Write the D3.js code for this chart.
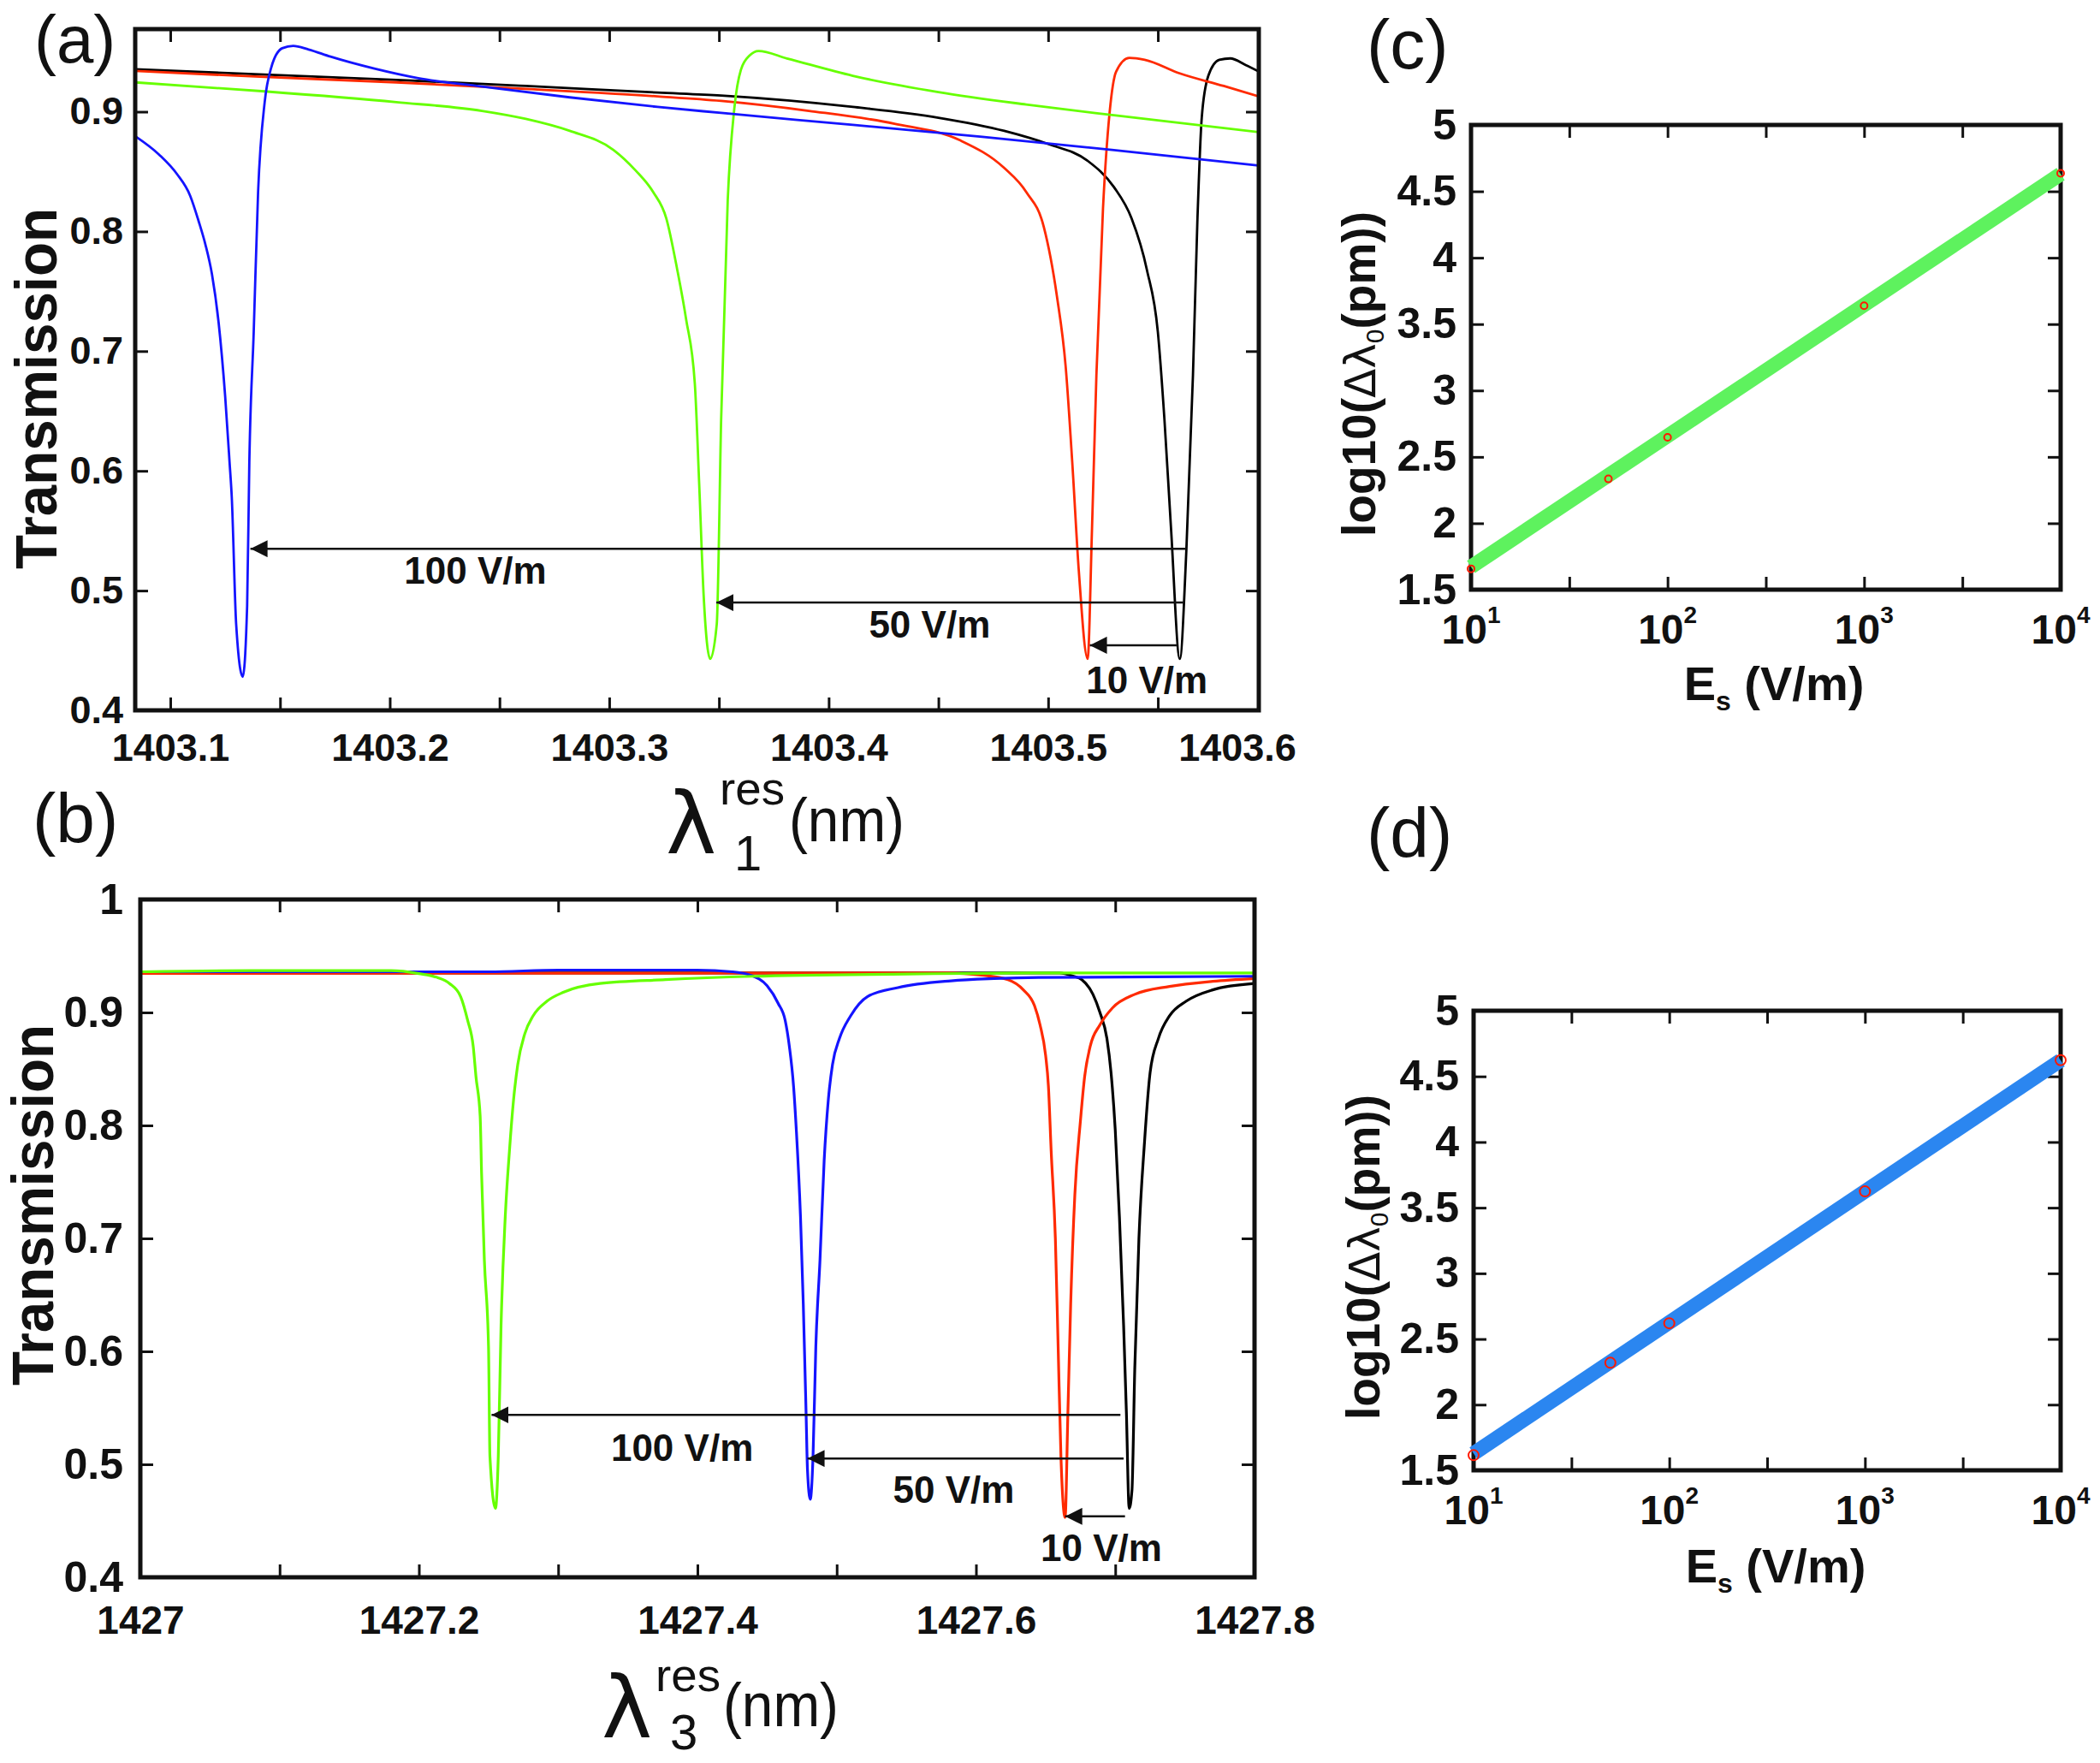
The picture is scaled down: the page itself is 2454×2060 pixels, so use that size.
<!DOCTYPE html>
<html>
<head>
<meta charset="utf-8">
<script src="https://cdn.jsdelivr.net/npm/d3@7"></script>
<style>
  body { margin: 0; background: #fff; }
  text { font-family: "Liberation Sans", Arial, sans-serif; fill: #111; }
</style>
</head>
<body>
<script>
// ---- data ----
// (a) transmission around lambda_1 (nm, T)
let aBlack = [[1403.084,0.9354],[1403.143,0.931],[1403.203,0.9266],[1403.262,0.9215],[1403.322,0.916],[1403.351,0.9135],[1403.411,0.904],[1403.450,0.895],[1403.480,0.884],[1403.500,0.873],[1403.518,0.859],[1403.530,0.837],[1403.538,0.811],[1403.545,0.768],[1403.550,0.716],[1403.553,0.643],[1403.556,0.552],[1403.560,0.443],[1403.563,0.534],[1403.566,0.680],[1403.568,0.808],[1403.570,0.895],[1403.573,0.930],[1403.578,0.9434],[1403.583,0.9445],[1403.590,0.939],[1403.596,0.9336]];
let aRed = [[1403.084,0.934],[1403.143,0.929],[1403.203,0.9245],[1403.262,0.919],[1403.322,0.9128],[1403.351,0.909],[1403.391,0.9007],[1403.430,0.890],[1403.460,0.876],[1403.480,0.853],[1403.490,0.833],[1403.498,0.804],[1403.504,0.746],[1403.508,0.687],[1403.511,0.607],[1403.514,0.516],[1403.518,0.443],[1403.520,0.552],[1403.522,0.680],[1403.525,0.819],[1403.528,0.899],[1403.531,0.9336],[1403.537,0.945],[1403.544,0.9434],[1403.560,0.932],[1403.580,0.9215],[1403.596,0.9128]];
let aGreen = [[1403.084,0.9245],[1403.143,0.917],[1403.203,0.908],[1403.242,0.9007],[1403.262,0.894],[1403.282,0.884],[1403.302,0.868],[1403.312,0.851],[1403.320,0.833],[1403.326,0.811],[1403.331,0.768],[1403.335,0.727],[1403.339,0.673],[1403.341,0.589],[1403.343,0.497],[1403.346,0.443],[1403.349,0.472],[1403.351,0.643],[1403.354,0.826],[1403.357,0.9026],[1403.360,0.935],[1403.364,0.947],[1403.368,0.9507],[1403.381,0.9445],[1403.411,0.930],[1403.450,0.9164],[1403.490,0.906],[1403.530,0.897],[1403.596,0.883]];
let aBlue = [[1403.084,0.8796],[1403.095,0.864],[1403.103,0.848],[1403.109,0.830],[1403.113,0.808],[1403.116,0.789],[1403.119,0.764],[1403.122,0.724],[1403.125,0.662],[1403.127,0.607],[1403.128,0.578],[1403.130,0.472],[1403.133,0.428],[1403.135,0.487],[1403.136,0.607],[1403.138,0.716],[1403.140,0.833],[1403.143,0.908],[1403.146,0.937],[1403.151,0.953],[1403.156,0.955],[1403.163,0.952],[1403.173,0.946],[1403.193,0.936],[1403.213,0.928],[1403.242,0.921],[1403.282,0.912],[1403.322,0.904],[1403.351,0.899],[1403.411,0.889],[1403.470,0.879],[1403.530,0.868],[1403.596,0.855]];

// (b) transmission around lambda_3
let bBlack = [[1427.000,0.935],[1427.660,0.935],[1427.670,0.932],[1427.676,0.929],[1427.684,0.916],[1427.689,0.900],[1427.694,0.877],[1427.697,0.8465],[1427.700,0.796],[1427.703,0.719],[1427.706,0.623],[1427.708,0.546],[1427.710,0.461],[1427.712,0.477],[1427.714,0.584],[1427.717,0.700],[1427.721,0.785],[1427.725,0.8465],[1427.731,0.877],[1427.739,0.897],[1427.751,0.910],[1427.770,0.920],[1427.800,0.9256]];
let bRed = [[1427.000,0.9345],[1427.580,0.935],[1427.604,0.933],[1427.623,0.929],[1427.634,0.920],[1427.642,0.906],[1427.646,0.889],[1427.650,0.862],[1427.652,0.835],[1427.654,0.777],[1427.657,0.700],[1427.659,0.604],[1427.661,0.507],[1427.664,0.453],[1427.666,0.546],[1427.668,0.642],[1427.671,0.739],[1427.675,0.804],[1427.678,0.843],[1427.682,0.870],[1427.689,0.889],[1427.698,0.904],[1427.714,0.916],[1427.739,0.923],[1427.770,0.9275],[1427.800,0.930]];
let bBlue = [[1427.000,0.936],[1427.250,0.936],[1427.300,0.9375],[1427.400,0.9375],[1427.425,0.936],[1427.438,0.933],[1427.450,0.9236],[1427.458,0.908],[1427.463,0.893],[1427.466,0.870],[1427.469,0.835],[1427.471,0.796],[1427.474,0.719],[1427.476,0.642],[1427.478,0.546],[1427.479,0.4956],[1427.481,0.469],[1427.483,0.507],[1427.485,0.604],[1427.488,0.681],[1427.491,0.769],[1427.494,0.823],[1427.497,0.854],[1427.502,0.877],[1427.510,0.897],[1427.522,0.914],[1427.544,0.922],[1427.582,0.928],[1427.613,0.930],[1427.645,0.931],[1427.800,0.932]];
let bGreen = [[1427.000,0.936],[1427.080,0.937],[1427.180,0.937],[1427.200,0.9344],[1427.213,0.931],[1427.222,0.9256],[1427.230,0.914],[1427.235,0.893],[1427.239,0.870],[1427.241,0.843],[1427.244,0.808],[1427.245,0.758],[1427.247,0.681],[1427.250,0.604],[1427.251,0.507],[1427.255,0.461],[1427.257,0.507],[1427.259,0.623],[1427.262,0.719],[1427.265,0.777],[1427.268,0.823],[1427.271,0.854],[1427.276,0.881],[1427.282,0.897],[1427.292,0.910],[1427.304,0.918],[1427.330,0.9256],[1427.377,0.929],[1427.440,0.932],[1427.551,0.934],[1427.645,0.935],[1427.800,0.935]];

// shift arrows: y level, tail (unshifted dip), head (shifted dip), label position
let arrowsA = [
  { label: "100 V/m", y: 0.535, from: 1403.563, to: 1403.1365, lx: 1403.239, ly: 0.517 },
  { label: "50 V/m",  y: 0.490, from: 1403.5616, to: 1403.3488, lx: 1403.446, ly: 0.472 },
  { label: "10 V/m",  y: 0.4544, from: 1403.559, to: 1403.519, lx: 1403.545, ly: 0.4255 }
];
let arrowsB = [
  { label: "100 V/m", y: 0.5438, from: 1427.7037, to: 1427.2522, lx: 1427.389, ly: 0.515 },
  { label: "50 V/m",  y: 0.5052, from: 1427.706, to: 1427.479, lx: 1427.584, ly: 0.478 },
  { label: "10 V/m",  y: 0.4539, from: 1427.707, to: 1427.664, lx: 1427.690, ly: 0.4262 }
];

// (c), (d) log10 of shift vs applied field
let fields = [10, 50, 100, 1000, 10000];
let shiftC = [1.657, 2.334, 2.647, 3.638, 4.636];
let shiftD = [1.615, 2.319, 2.620, 3.624, 4.624];
let fitFields = [10, 10000];
let fitC = [1.672, 4.630];
let fitD = [1.628, 4.622];

// tick values
let xTicksA = d3.range(0, 10).map(i => 1403.1 + i * 0.05);
let xLabelsA = [1403.1, 1403.2, 1403.3, 1403.4, 1403.5, 1403.6];
let yTicksA = [0.4, 0.5, 0.6, 0.7, 0.8, 0.9];
let xTicksB = d3.range(0, 9).map(i => 1427 + i * 0.1);
let yTicksB = [0.4, 0.5, 0.6, 0.7, 0.8, 0.9, 1];
let logTicks = [1, 1.5, 2, 2.5, 3, 3.5, 4].map(e => Math.pow(10, e));
let decades = [1, 2, 3, 4];
let yTicksCD = [1.5, 2, 2.5, 3, 3.5, 4, 4.5, 5];

// ---- drawing ----
let svg = d3.select("body").append("svg")
  .attr("width", 2454)
  .attr("height", 2060);

let defs = svg.append("defs");
defs.append("marker")
  .attr("id", "head")
  .attr("viewBox", "0 0 20 20")
  .attr("markerUnits", "userSpaceOnUse")
  .attr("markerWidth", 20).attr("markerHeight", 20)
  .attr("refX", 20).attr("refY", 10)
  .attr("orient", "auto")
  .append("path").attr("d", "M0,0 L20,10 L0,20 Z").attr("fill", "#111");

let xA = d3.scaleLinear().domain([1403.084, 1403.596]).range([158, 1471]);
let yA = d3.scaleLinear().domain([0.4, 0.969]).range([830, 34]);
let xB = d3.scaleLinear().domain([1427, 1427.8]).range([164, 1466]);
let yB = d3.scaleLinear().domain([0.4, 1]).range([1843, 1051]);
let xC = d3.scaleLog().domain([10, 1e4]).range([1719, 2408]);
let yC = d3.scaleLinear().domain([1.5, 5]).range([689, 146]);
let xD = d3.scaleLog().domain([10, 1e4]).range([1722, 2408]);
let yD = d3.scaleLinear().domain([1.5, 5]).range([1718, 1181]);

function boxAxes(x, y, o) {
  let [xl, xr] = x.range(), [yb, yt] = y.range();
  let g = svg.append("g");
  let bottom = g.append("g").attr("transform", `translate(0,${yb})`)
    .call(d3.axisBottom(x).tickValues(o.xTicks).tickSize(-15).tickPadding(o.xPad).tickFormat(o.xFmt));
  let top = g.append("g").attr("transform", `translate(0,${yt})`)
    .call(d3.axisTop(x).tickValues(o.xTicks).tickSize(-15).tickFormat(""));
  let left = g.append("g").attr("transform", `translate(${xl},0)`)
    .call(d3.axisLeft(y).tickValues(o.yTicks).tickSize(-15).tickPadding(o.yPad).tickFormat(o.yFmt));
  let right = g.append("g").attr("transform", `translate(${xr},0)`)
    .call(d3.axisRight(y).tickValues(o.yTicks).tickSize(-15).tickFormat(""));
  [bottom, top, left, right].forEach(a => {
    a.select(".domain").remove();
    a.selectAll("line").attr("stroke", "#111").attr("stroke-width", 3);
    a.selectAll("text")
      .style("font-family", '"Liberation Sans", Arial, sans-serif')
      .attr("font-weight", "bold").attr("fill", "#111");
  });
  bottom.selectAll("text").attr("font-size", o.xFs);
  left.selectAll("text").attr("font-size", o.yFs);
  g.append("rect")
    .attr("x", xl).attr("y", yt)
    .attr("width", xr - xl).attr("height", yb - yt)
    .attr("fill", "none").attr("stroke", "#111").attr("stroke-width", 5);
  return g;
}

function clipFor(id, x, y) {
  let [xl, xr] = x.range(), [yb, yt] = y.range();
  defs.append("clipPath").attr("id", id)
    .append("rect").attr("x", xl).attr("y", yt).attr("width", xr - xl).attr("height", yb - yt);
  return svg.append("g").attr("clip-path", `url(#${id})`);
}

function curves(g, x, y, series, width) {
  let line = d3.line().x(d => x(d[0])).y(d => y(d[1])).curve(d3.curveMonotoneX);
  series.forEach(s => {
    g.append("path").datum(s.data)
      .attr("d", line)
      .attr("fill", "none")
      .attr("stroke", s.color)
      .attr("stroke-width", width)
      .attr("stroke-linejoin", "round");
  });
}

function shiftArrows(x, y, arrows) {
  let g = svg.append("g");
  arrows.forEach(a => {
    g.append("line")
      .attr("x1", x(a.from)).attr("y1", y(a.y))
      .attr("x2", x(a.to)).attr("y2", y(a.y))
      .attr("stroke", "#111").attr("stroke-width", 2.5)
      .attr("marker-end", "url(#head)");
    g.append("text")
      .attr("x", x(a.lx)).attr("y", y(a.ly))
      .attr("dy", "0.36em")
      .attr("text-anchor", "middle")
      .attr("font-size", 44).attr("font-weight", "bold")
      .text(a.label);
  });
}

let tenths = d => Math.abs(d * 10 - Math.round(d * 10)) < 1e-6;
let fifths = d => Math.abs(d * 5 - Math.round(d * 5)) < 1e-6;

// panel (a)
let gA = clipFor("clipA", xA, yA);
curves(gA, xA, yA, [
  { data: aBlack, color: "#000" },
  { data: aRed, color: "#ff2a00" },
  { data: aGreen, color: "#66ff00" },
  { data: aBlue, color: "#1414ff" }
], 2.8);
boxAxes(xA, yA, {
  xTicks: xTicksA, xPad: 27, xFs: 45,
  xFmt: d => tenths(d) ? d.toFixed(1) : "",
  yTicks: yTicksA, yPad: 14, yFs: 45,
  yFmt: d => d.toFixed(1)
});
// last label sits past the axis end
svg.append("text")
  .attr("x", Math.min(xA(xLabelsA[5]), xA.range()[1] - 25))
  .attr("y", 889)
  .attr("text-anchor", "middle")
  .attr("font-size", 45).attr("font-weight", "bold")
  .text(xLabelsA[5].toFixed(1));
shiftArrows(xA, yA, arrowsA);

// panel (b)
let gB = clipFor("clipB", xB, yB);
curves(gB, xB, yB, [
  { data: bBlack, color: "#000" },
  { data: bRed, color: "#ff2a00" },
  { data: bBlue, color: "#1414ff" },
  { data: bGreen, color: "#66ff00" }
], 3.2);
boxAxes(xB, yB, {
  xTicks: xTicksB, xPad: 33, xFs: 46,
  xFmt: d => fifths(d) ? (Math.abs(d - 1427) < 1e-6 ? "1427" : d.toFixed(1)) : "",
  yTicks: yTicksB, yPad: 20, yFs: 50,
  yFmt: d => d === 1 ? "1" : d.toFixed(1)
});
shiftArrows(xB, yB, arrowsB);

// panels (c), (d)
function shiftPanel(x, y, vals, fit, color, lw, r) {
  boxAxes(x, y, {
    xTicks: logTicks, xPad: 20, xFs: 48, xFmt: "",
    yTicks: yTicksCD, yPad: 17, yFs: 50,
    yFmt: d => String(d)
  });
  let line = d3.line().x(d => x(d[0])).y(d => y(d[1]));
  svg.append("path")
    .datum(fitFields.map((f, i) => [f, fit[i]]))
    .attr("d", line)
    .attr("fill", "none").attr("stroke", color).attr("stroke-width", lw);
  svg.append("g").selectAll("circle")
    .data(fields.map((f, i) => [f, vals[i]]))
    .join("circle")
    .attr("cx", d => x(d[0])).attr("cy", d => y(d[1]))
    .attr("r", r)
    .attr("fill", "none").attr("stroke", "#ff1a00").attr("stroke-width", 2);
  let yb = y.range()[0];
  let lab = svg.append("g").selectAll("text")
    .data(decades)
    .join("text")
    .attr("x", d => x(Math.pow(10, d)))
    .attr("y", yb + 63)
    .attr("text-anchor", "middle")
    .attr("font-size", 48).attr("font-weight", "bold");
  lab.append("tspan").text("10");
  lab.append("tspan").attr("font-size", 28).attr("dy", -24).text(d => d);
}
shiftPanel(xC, yC, shiftC, fitC, "#5ef25e", 17, 4);
shiftPanel(xD, yD, shiftD, fitD, "#2b86f0", 17, 6);

// ---- titles ----
function panelTag(x, y, s, fs) {
  svg.append("text").attr("x", x).attr("y", y)
    .attr("font-size", fs).text(s);
}
panelTag(40, 73, "(a)", 78);
panelTag(38, 984, "(b)", 82);
panelTag(1597, 80, "(c)", 82);
panelTag(1597, 1001, "(d)", 82);

function transLabel(bx, cy) {
  svg.append("text")
    .attr("transform", `translate(${bx},${cy}) rotate(-90)`)
    .attr("text-anchor", "middle")
    .attr("font-size", 68).attr("font-weight", "bold")
    .attr("textLength", 422).attr("lengthAdjust", "spacingAndGlyphs")
    .text("Transmission");
}
transLabel(66, 454);
transLabel(62, 1408);

function lambdaLabel(lx, lb, sub, resB, subB, nmX, nmB) {
  svg.append("text").attr("x", lx).attr("y", lb)
    .style("font-family", '"DejaVu Sans", sans-serif')
    .attr("font-size", 100).text("λ");
  svg.append("text").attr("x", lx + 63).attr("y", resB)
    .attr("font-size", 54).attr("textLength", 76).attr("lengthAdjust", "spacingAndGlyphs")
    .text("res");
  svg.append("text").attr("x", lx + 80).attr("y", subB)
    .attr("font-size", 58).text(sub);
  svg.append("text").attr("x", nmX).attr("y", nmB)
    .attr("font-size", 72).attr("textLength", 135).attr("lengthAdjust", "spacingAndGlyphs")
    .text("(nm)");
}
lambdaLabel(778, 997, "1", 940, 1017, 922, 983);
lambdaLabel(703, 2030, "3", 1976, 2044, 845, 2017);

function shiftYLabel(bx, cy) {
  let t = svg.append("text")
    .attr("transform", `translate(${bx},${cy}) rotate(-90)`)
    .attr("text-anchor", "middle")
    .attr("font-size", 55).attr("font-weight", "bold");
  t.append("tspan").text("log10(");
  t.append("tspan").attr("font-weight", "normal")
    .style("font-family", '"DejaVu Sans", sans-serif').attr("font-size", 50).text("Δλ");
  t.append("tspan").attr("font-weight", "normal").attr("font-size", 30).attr("dy", 10).text("0");
  t.append("tspan").attr("dy", -10).text("(pm))");
}
shiftYLabel(1607, 437);
shiftYLabel(1612, 1469);

function fieldLabel(cx, by) {
  let t = svg.append("text")
    .attr("x", cx).attr("y", by)
    .attr("text-anchor", "middle")
    .attr("font-size", 56).attr("font-weight", "bold");
  t.append("tspan").text("E");
  t.append("tspan").attr("font-size", 32).attr("dy", 12).text("s");
  t.append("tspan").attr("dy", -12).text(" (V/m)");
}
fieldLabel(2073, 818);
fieldLabel(2075, 1849);
</script>
</body>
</html>
